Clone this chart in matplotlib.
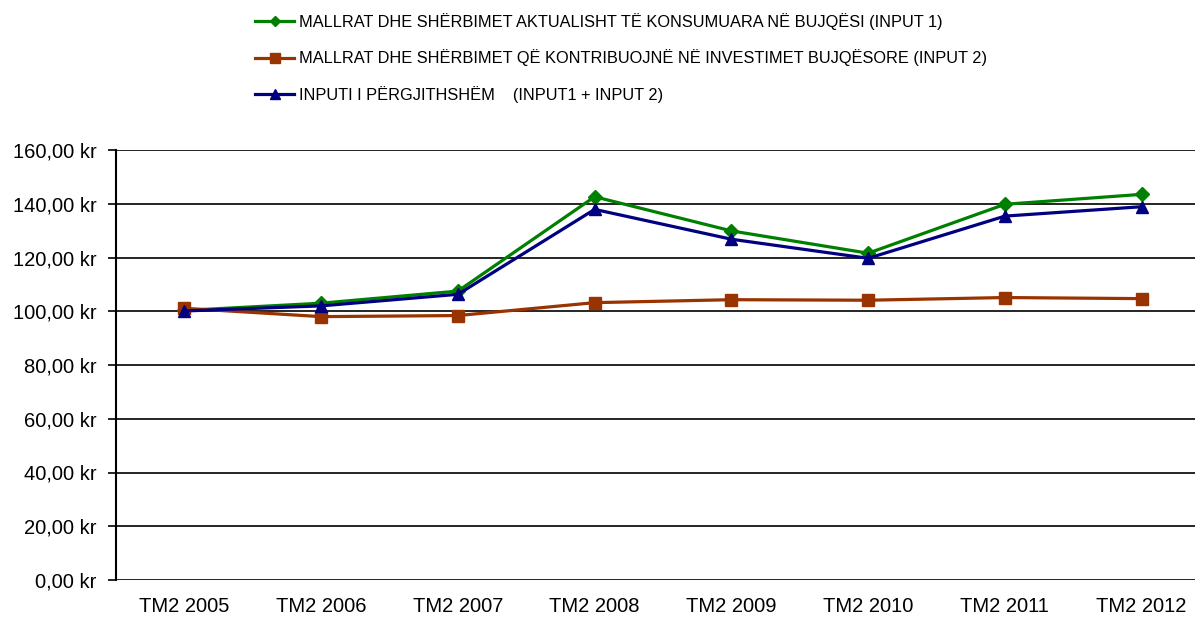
import matplotlib
matplotlib.use('Agg')
import matplotlib.pyplot as plt
from matplotlib.ticker import FuncFormatter

# ── Data ────────────────────────────────────────────────
years = ['TM2 2005', 'TM2 2006', 'TM2 2007', 'TM2 2008',
         'TM2 2009', 'TM2 2010', 'TM2 2011', 'TM2 2012']
input1 = [100.3, 103.0, 107.5, 142.6, 129.9, 121.6, 139.8, 143.5]
input2 = [101.1, 98.0, 98.4, 103.2, 104.3, 104.1, 105.1, 104.7]
total = [100.1, 102.0, 106.3, 137.9, 126.8, 119.7, 135.4, 138.9]

labels = [
    'MALLRAT DHE SHËRBIMET AKTUALISHT TË KONSUMUARA NË BUJQËSI (INPUT 1)',
    'MALLRAT DHE SHËRBIMET QË KONTRIBUOJNË NË INVESTIMET BUJQËSORE (INPUT 2)',
    'INPUTI I PËRGJITHSHËM    (INPUT1 + INPUT 2)',
]

# ── Colors ──────────────────────────────────────────────
GREEN = '#008000'
BROWN = '#993300'
NAVY = '#000080'

plt.rcParams['font.family'] = ['Liberation Sans', 'DejaVu Sans']

fig = plt.figure(figsize=(11.95, 6.18), dpi=100)
ax = fig.add_axes([116 / 1195, 38 / 618, 1 - 116 / 1195, 430 / 618])

x = range(len(years))
l1, = ax.plot(x, input1, color=GREEN, lw=2.3, marker='D', ms=7, zorder=3)
l2, = ax.plot(x, input2, color=BROWN, lw=2.3, marker='s', ms=8.5, zorder=4)
l3, = ax.plot(x, total, color=NAVY, lw=2.3, marker='^', ms=9, zorder=5)

ax.set_ylim(0, 160)
ax.set_xlim(-0.5, 7.39)
ax.set_yticks(range(0, 161, 20))
ax.yaxis.set_major_formatter(FuncFormatter(lambda v, p: f'{v:.2f}'.replace('.', ',') + ' kr'))
ax.set_xticks(list(x))
ax.set_xticklabels(years)
ax.grid(axis='y', color='black', lw=1.2)
ax.set_axisbelow(True)

for s in ['top', 'right', 'bottom']:
    ax.spines[s].set_visible(False)
ax.spines['left'].set_linewidth(1.5)
ax.tick_params(axis='y', length=6, width=1.2, labelsize=14.5, pad=8)
ax.tick_params(axis='x', length=0, labelsize=14.5, pad=12)

# legend sits above the plot, left-aligned entries
leg = fig.legend([l1, l2, l3], labels, loc='upper left',
                 bbox_to_anchor=(239 / 1195, 1.006), frameon=False,
                 fontsize=11.8, handlelength=2.35, handletextpad=0.3,
                 labelspacing=1.2, borderaxespad=0.6, markerscale=0.8)

fig.savefig('out.png', dpi=100)
